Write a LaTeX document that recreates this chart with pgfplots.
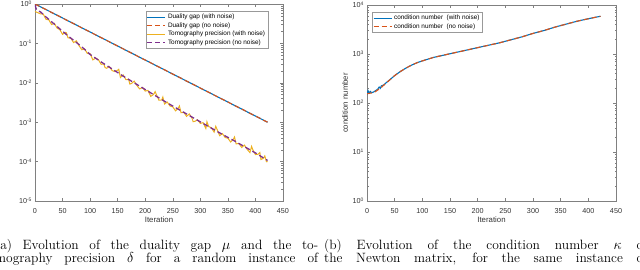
\documentclass[border=0pt]{standalone}
\usepackage{fontspec}
\usepackage{pgfplots}
\pgfplotsset{compat=1.18}
\newfontfamily\hv{Liberation Sans}
\definecolor{mblue}{rgb}{0,0.447,0.741}
\definecolor{morange}{rgb}{0.85,0.325,0.098}
\definecolor{myellow}{rgb}{0.929,0.694,0.125}
\definecolor{mpurple}{rgb}{0.494,0.184,0.556}
\newcommand\pw[1]{10\raisebox{0.65ex}{\fontsize{5}{5}\selectfont #1}}
\pgfplotsset{
  mstyle/.style={
    scale only axis, xmin=0, xmax=450,
    xtick={0,50,...,450},
    tick align=inside,
    major tick length=2.8pt, minor tick length=1.5pt,
    axis line style={black!50, line width=0.4pt},
    every tick/.style={black!50, line width=0.35pt},
    tick label style={font=\hv\fontsize{7.2}{8}\selectfont, text=black!80},
    xticklabel style={yshift=-3.5pt},
    /pgf/number format/assume math mode=true,
    log number format basis/.code 2 args={\pw{\pgfmathprintnumber{##2}}},
    label style={font=\hv\fontsize{7.8}{9}\selectfont, text=black!80},
    xlabel={Iteration},
    xlabel style={at={(axis description cs:0.5,-0.097)}, anchor=center},
    legend cell align=left,
    legend style={font=\hv\fontsize{6.4}{7}\selectfont, draw=black!40, line width=0.4pt, inner sep=0.8pt, row sep=-1.6pt},
    legend image code/.code={\draw[##1] (0pt,0pt) -- (18pt,0pt);},
  }
}
\begin{document}
\begin{tikzpicture}
\useasboundingbox (0,0) rectangle (640pt,269pt);
\clip (0,0) rectangle (640pt,269pt);
\begin{semilogyaxis}[mstyle, at={(35pt,68pt)}, anchor=south west, width=248pt, height=197pt,
  ymin=1e-5, ymax=1,
  legend style={at={(0.94,0.964)}, anchor=north east}]
\addplot[mblue, line width=1.1pt] coordinates {(0,1) (100,0.1945) (200,0.0378) (300,0.00736) (422,0.001)};
\addlegendentry{Duality gap (with noise)}
\addplot[morange, line width=1.1pt, dash pattern=on 5pt off 3pt] coordinates {(0,1) (100,0.1945) (200,0.0378) (300,0.00736) (422,0.001)};
\addlegendentry{Duality gap (no noise)}
\addplot[myellow, line width=1pt] coordinates {
(0,0.646) (5,0.603) (10,0.562) (15,0.556) (20,0.407) (25,0.398) (30,0.302) (35,0.324)
(40,0.245) (45,0.224) (50,0.170) (55,0.191) (57,0.185) (60,0.138) (65,0.136) (70,0.105) (75,0.116)
(80,0.0871) (85,0.0692) (90,0.0724) (95,0.0556) (100,0.0550) (105,0.0382) (110,0.0422)
(115,0.0387) (120,0.0295) (125,0.0299) (127,0.0244) (130,0.0234) (135,0.0260) (140,0.0204) (145,0.0193)
(150,0.0209) (152,0.0220) (155,0.0136) (160,0.0158) (165,0.0120) (170,0.0122) (172,0.00929) (175,0.00960) (180,0.0110)
(185,0.00846) (190,0.00700) (195,0.00763) (200,0.00617) (205,0.00642) (210,0.00452)
(215,0.00504) (218,0.00598) (220,0.00513) (225,0.00361) (230,0.00367) (232,0.00435) (235,0.00290) (240,0.00324)
(245,0.00257) (250,0.00245) (255,0.00195) (260,0.00229) (262,0.00259) (265,0.00174) (270,0.00178)
(275,0.00141) (280,0.00162) (285,0.00126) (287,0.00103) (290,0.00105) (295,0.00115) (300,9.33e-4)
(305,9.77e-4) (310,6.92e-4) (312,1.03e-3) (315,7.76e-4) (320,7.24e-4) (325,5.62e-4) (328,7.87e-4) (330,6.76e-4)
(335,4.57e-4) (340,5.13e-4) (345,4.10e-4) (350,3.94e-4) (355,3.14e-4) (360,3.72e-4) (362,4.21e-4)
(365,2.82e-4) (370,2.88e-4) (375,2.29e-4) (380,2.63e-4) (385,2.04e-4) (390,1.70e-4) (393,2.43e-4)
(395,2.04e-4) (400,1.51e-4) (405,1.54e-4) (408,1.70e-4) (410,1.13e-4) (415,1.23e-4) (417,1.39e-4) (420,9.93e-5) (422,1.0e-4)};
\addlegendentry{Tomography precision (with noise)}
\addplot[mpurple, line width=1.3pt, dash pattern=on 5pt off 3pt] coordinates {
(0,0.955) (2,0.759) (5,0.676) (10,0.631) (20,0.468) (30,0.355) (40,0.269) (50,0.204)
(60,0.155) (70,0.120) (80,0.0933) (90,0.0708) (100,0.0525) (120,0.0339) (140,0.0224)
(160,0.0148) (180,0.0100) (200,0.00676) (220,0.00457) (240,0.00309) (260,0.00214)
(280,0.00148) (300,0.00102) (320,7.08e-4) (340,4.90e-4) (360,3.47e-4) (380,2.40e-4)
(400,1.66e-4) (422,1.07e-4)};
\addlegendentry{Tomography precision (no noise)}
\end{semilogyaxis}
\begin{semilogyaxis}[mstyle, at={(367pt,68pt)}, anchor=south west, width=249pt, height=196pt,
  ymin=1, ymax=1e4, ylabel={condition number},
  ylabel style={at={(axis description cs:-0.088,0.5)}, anchor=center},
  legend style={at={(0.02,0.964)}, anchor=north west}]
\addplot[mblue, line width=1.1pt] coordinates {
(0,150) (2,178) (4,160) (6,172) (8,162) (12,168) (16,180) (20,195) (22,212) (24,200)
(26,224) (30,232) (35,262) (40,290) (50,363) (60,437) (70,513) (80,589) (90,661) (100,724)
(120,851) (140,955) (160,1072) (180,1202) (200,1349) (220,1514) (240,1698) (260,1950)
(280,2239) (300,2630) (320,3020) (340,3548) (360,4074) (380,4677) (400,5248) (422,5888)};
\addlegendentry{condition number\ \ (with noise)}
\addplot[morange, line width=1.1pt, dash pattern=on 5pt off 3pt] coordinates {
(0,155) (5,158) (10,162) (15,170) (20,186) (25,204) (30,229) (40,288) (50,363) (60,437)
(70,513) (80,589) (90,661) (100,724) (120,851) (140,955) (160,1072) (180,1202) (200,1349)
(220,1514) (240,1698) (260,1950) (280,2239) (300,2630) (320,3020) (340,3548) (360,4074)
(380,4677) (400,5248) (422,5888)};
\addlegendentry{condition number\ \ (no noise)}
\end{semilogyaxis}
\begin{scope}[font=\fontsize{13.5}{15}\selectfont]
\node[anchor=base west, inner sep=0] at (-5pt,20pt) {\makebox[323pt][s]{(a) Evolution of the duality gap $\mu$ and the to-}};
\node[anchor=base west, inner sep=0] at (-5pt,6.5pt) {\makebox[323pt][s]{mography precision $\delta$ for a random instance of}};
\node[anchor=base west, inner sep=0] at (324pt,20pt) {\makebox[323pt][s]{(b) Evolution of the condition number $\kappa$ of}};
\node[anchor=base west, inner sep=0] at (324pt,6.5pt) {\makebox[323pt][s]{the Newton matrix, for the same instance of}};
\end{scope}
\end{tikzpicture}
\end{document}
